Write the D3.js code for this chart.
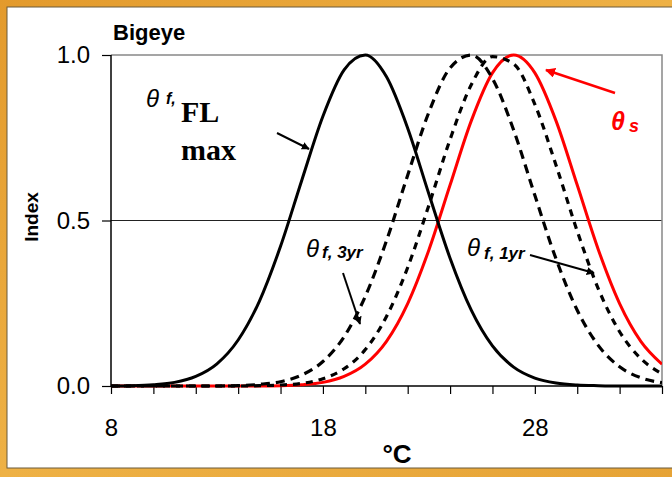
<!DOCTYPE html>
<html>
<head>
<meta charset="utf-8">
<script src="https://cdn.jsdelivr.net/npm/d3@7"></script>
<style>
  body { margin: 0; background: #e8a436; }
  svg text { font-family: "Liberation Sans", Arial, sans-serif; }
</style>
</head>
<body>
<div id="chart"></div>
<script>
var width = 672,
    height = 477;

// temperature (deg C) and index values
var temps  = [8, 9, 10, 11, 12, 13, 14, 15, 16, 17, 18, 19, 20, 21, 22, 23, 24, 25, 26, 27, 28, 29, 30, 31, 32, 33, 34];
var flMax  = [0, 0.001, 0.004, 0.011, 0.029, 0.067, 0.139, 0.256, 0.422, 0.621, 0.815, 0.955, 1.000, 0.934, 0.779, 0.580, 0.386, 0.229, 0.121, 0.057, 0.024, 0.009, 0.003, 0.001, 0, 0, 0];
var yr3    = [0, 0, 0, 0, 0, 0, 0.001, 0.005, 0.013, 0.033, 0.074, 0.149, 0.271, 0.439, 0.637, 0.827, 0.961, 1.000, 0.929, 0.773, 0.576, 0.384, 0.229, 0.122, 0.058, 0.025, 0.010];
var yr1    = [0, 0, 0, 0, 0, 0, 0, 0.001, 0.003, 0.008, 0.022, 0.052, 0.110, 0.210, 0.358, 0.546, 0.745, 0.910, 0.995, 0.973, 0.851, 0.667, 0.468, 0.293, 0.164, 0.083, 0.037];
var spawn  = [0, 0, 0, 0, 0, 0, 0, 0, 0.001, 0.004, 0.011, 0.029, 0.066, 0.135, 0.249, 0.411, 0.607, 0.801, 0.946, 1.000, 0.946, 0.801, 0.607, 0.411, 0.249, 0.135, 0.066];

var xTicks = [8, 10, 12, 14, 16, 18, 20, 22, 24, 26, 28, 30, 32, 34];
var xLabels = [8, 18, 28];
var yTicks = [0, 0.5, 1];

var svg = d3.select("#chart")
  .append("svg")
  .attr("width", width)
  .attr("height", height);

// orange slide frame
var defs = svg.append("defs");
var grad = defs.append("linearGradient")
  .attr("id", "frame")
  .attr("x1", "0").attr("y1", "0").attr("x2", "1").attr("y2", "1");
grad.append("stop").attr("offset", "0%").attr("stop-color", "#e39a2c");
grad.append("stop").attr("offset", "50%").attr("stop-color", "#eeb145");
grad.append("stop").attr("offset", "100%").attr("stop-color", "#e6a336");

svg.append("rect")
  .attr("width", width).attr("height", height)
  .attr("fill", "url(#frame)");

svg.append("rect")
  .attr("x", 7).attr("y", 7)
  .attr("width", width - 6).attr("height", 461)
  .attr("fill", "#fff")
  .attr("stroke", "#6b5a3a")
  .attr("stroke-width", 1);

// arrow heads
defs.append("marker")
  .attr("id", "arrowBlack")
  .attr("viewBox", "0 0 10 10")
  .attr("refX", 9).attr("refY", 5)
  .attr("markerWidth", 4).attr("markerHeight", 4)
  .attr("orient", "auto")
  .append("path").attr("d", "M0,0L10,5L0,10z").attr("fill", "#000");

defs.append("marker")
  .attr("id", "arrowRed")
  .attr("viewBox", "0 0 10 10")
  .attr("refX", 9).attr("refY", 5)
  .attr("markerWidth", 4).attr("markerHeight", 4)
  .attr("orient", "auto")
  .append("path").attr("d", "M0,0L10,5L0,10z").attr("fill", "#f00");

// plot area edges (window.top is reserved, so own names)
var plotL = 111, plotR = 662, plotT = 55, plotB = 386;

var x = d3.scaleLinear().domain([8, 34]).range([plotL, plotR]);
var y = d3.scaleLinear().domain([0, 1]).range([plotB, plotT]);

defs.append("clipPath")
  .attr("id", "plotClip")
  .append("rect")
  .attr("x", plotL).attr("y", plotT - 4)
  .attr("width", plotR - plotL).attr("height", plotB - plotT + 8);

// gridline at 0.5 and the grey frame at top / right
svg.append("line")
  .attr("x1", plotL).attr("x2", plotR)
  .attr("y1", y(0.5)).attr("y2", y(0.5))
  .attr("stroke", "#222").attr("stroke-width", 1);

svg.append("path")
  .attr("d", "M" + plotL + "," + y(1) + "H" + plotR + "V" + plotB)
  .attr("fill", "none")
  .attr("stroke", "#888")
  .attr("stroke-width", 1.5);

// axes
var xAxis = svg.append("g")
  .attr("transform", "translate(0," + plotB + ")")
  .call(d3.axisBottom(x)
    .tickValues(xTicks)
    .tickSize(8)
    .tickPadding(25)
    .tickFormat(function(d) { return xLabels.indexOf(d) >= 0 ? d : ""; }));

var yAxis = svg.append("g")
  .attr("transform", "translate(" + plotL + ",0)")
  .call(d3.axisLeft(y)
    .tickValues(yTicks)
    .tickSize(9)
    .tickPadding(12)
    .tickFormat(d3.format(".1f")));

[xAxis, yAxis].forEach(function(g) {
  g.select(".domain").attr("stroke", "#000").attr("stroke-width", 1.5);
  g.selectAll(".tick line").attr("stroke", "#000").attr("stroke-width", 1.2);
  g.selectAll(".tick text")
    .attr("fill", "#000")
    .style("font-family", "'Liberation Sans', Arial, sans-serif")
    .style("font-size", "24px");
});
xAxis.select(".domain").attr("d", "M" + plotL + ",0H" + plotR);
yAxis.select(".domain").attr("d", "M0," + plotB + "V" + plotT);

// curves
var line = d3.line()
  .x(function(d) { return x(d.t); })
  .y(function(d) { return y(d.v); })
  .curve(d3.curveMonotoneX);

function series(vals) {
  return temps.map(function(t, i) { return { t: t, v: vals[i] }; });
}

var curves = svg.append("g").attr("clip-path", "url(#plotClip)");

curves.append("path")
  .attr("d", line(series(spawn)))
  .attr("fill", "none")
  .attr("stroke", "#ff0000")
  .attr("stroke-width", 3);

curves.append("path")
  .attr("d", line(series(yr1)))
  .attr("fill", "none")
  .attr("stroke", "#000")
  .attr("stroke-width", 3.2)
  .attr("stroke-dasharray", "7,6");

curves.append("path")
  .attr("d", line(series(yr3)))
  .attr("fill", "none")
  .attr("stroke", "#000")
  .attr("stroke-width", 3.2)
  .attr("stroke-dasharray", "9,6");

curves.append("path")
  .attr("d", line(series(flMax)))
  .attr("fill", "none")
  .attr("stroke", "#000")
  .attr("stroke-width", 3);

// titles
svg.append("text")
  .attr("x", 113).attr("y", 40)
  .style("font-size", "22px").style("font-weight", "bold")
  .text("Bigeye");

svg.append("text")
  .attr("transform", "translate(38,217) rotate(-90)")
  .attr("text-anchor", "middle")
  .style("font-size", "19px").style("font-weight", "bold")
  .text("Index");

svg.append("text")
  .attr("x", 397).attr("y", 463)
  .attr("text-anchor", "middle")
  .style("font-size", "26px").style("font-weight", "bold")
  .text("°C");

// annotations
var fl = svg.append("g");
fl.append("text")
  .attr("x", 146).attr("y", 107)
  .style("font-size", "24px").style("font-style", "italic")
  .text("θ");
fl.append("text")
  .attr("x", 166).attr("y", 104)
  .style("font-size", "16px").style("font-style", "italic").style("font-weight", "bold")
  .text("f,");
fl.append("text")
  .attr("x", 181).attr("y", 122)
  .style("font-family", "'Liberation Serif', 'Times New Roman', serif")
  .style("font-size", "30px").style("font-weight", "bold")
  .text("FL");
fl.append("text")
  .attr("x", 181).attr("y", 160)
  .style("font-family", "'Liberation Serif', 'Times New Roman', serif")
  .style("font-size", "30px").style("font-weight", "bold")
  .text("max");
svg.append("line")
  .attr("x1", 277).attr("y1", 133).attr("x2", 309).attr("y2", 149)
  .attr("stroke", "#000").attr("stroke-width", 2)
  .attr("marker-end", "url(#arrowBlack)");

var a3 = svg.append("text").attr("x", 306).attr("y", 257);
a3.append("tspan").style("font-size", "24px").style("font-style", "italic").text("θ");
a3.append("tspan").attr("dx", 3).attr("dy", 1)
  .style("font-size", "17px").style("font-style", "italic").style("font-weight", "bold")
  .text("f, 3yr");
svg.append("line")
  .attr("x1", 343).attr("y1", 273).attr("x2", 360).attr("y2", 324)
  .attr("stroke", "#000").attr("stroke-width", 2)
  .attr("marker-end", "url(#arrowBlack)");

var a1 = svg.append("text").attr("x", 467).attr("y", 256);
a1.append("tspan").style("font-size", "24px").style("font-style", "italic").text("θ");
a1.append("tspan").attr("dx", 4).attr("dy", 3)
  .style("font-size", "17px").style("font-style", "italic").style("font-weight", "bold")
  .text("f, 1yr");
svg.append("line")
  .attr("x1", 530).attr("y1", 255).attr("x2", 594).attr("y2", 273)
  .attr("stroke", "#000").attr("stroke-width", 2)
  .attr("marker-end", "url(#arrowBlack)");

var as = svg.append("text").attr("x", 611).attr("y", 130).attr("fill", "#ff0000");
as.append("tspan").style("font-size", "25px").style("font-style", "italic").style("font-weight", "bold").text("θ");
as.append("tspan").attr("dx", 4).attr("dy", 2)
  .style("font-size", "18px").style("font-style", "italic").style("font-weight", "bold")
  .text("s");
svg.append("line")
  .attr("x1", 615).attr("y1", 93).attr("x2", 546).attr("y2", 70)
  .attr("stroke", "#ff0000").attr("stroke-width", 2.5)
  .attr("marker-end", "url(#arrowRed)");
</script>
</body>
</html>
